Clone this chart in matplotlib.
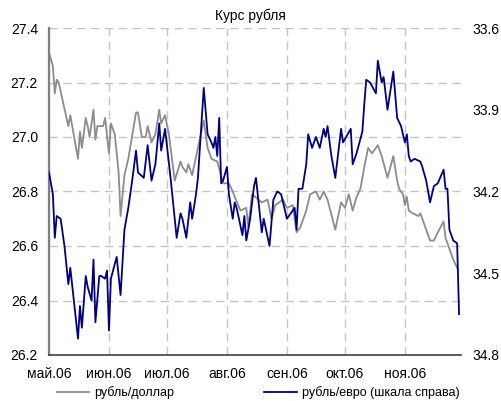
"""Курс рубля: рубль/доллар и рубль/евро (шкала справа)."""
import matplotlib
matplotlib.use("Agg")
import matplotlib.pyplot as plt
import pandas as pd

plt.rcParams['font.family'] = ['Liberation Sans', 'DejaVu Sans']

START = pd.Timestamp('2006-05-01')

# days after 1 May 2006
usd_days = [0, 2, 3, 4, 5, 10, 11, 15, 16, 17, 19, 20, 21, 23, 24, 25, 28, 29, 31, 32,
            34, 36, 37, 39, 41, 45, 46, 48, 50, 51, 53, 55, 57, 58, 60, 62, 65, 68, 69, 71,
            72, 74, 77, 80, 82, 84, 87, 90, 93, 95, 96, 99, 102, 103, 105, 110, 113, 115, 117, 121,
            123, 126, 128, 130, 133, 135, 138, 140, 142, 144, 148, 151, 153, 155, 157, 159, 161, 163, 165, 167,
            170, 172, 175, 178, 180, 181, 183, 184, 185, 186, 188, 191, 192, 193, 197, 199, 201, 204, 205, 207,
            209, 211]
usd_rate = [27.31, 27.26, 27.16, 27.21, 27.20, 27.04, 27.08, 26.92, 27.02, 26.96, 27.07, 27.04, 27.00, 27.10, 26.99, 27.04, 27.04, 27.07, 26.94, 27.05,
            27.01, 26.87, 26.71, 26.86, 26.92, 27.09, 27.09, 27.00, 27.00, 27.04, 26.98, 27.01, 27.10, 27.05, 27.08, 27.01, 26.84, 26.91, 26.89, 26.87,
            26.90, 26.86, 26.96, 27.06, 26.96, 26.92, 26.91, 26.83, 26.83, 26.80, 26.78, 26.73, 26.74, 26.67, 26.79, 26.76, 26.77, 26.70, 26.75, 26.77,
            26.74, 26.75, 26.65, 26.67, 26.73, 26.79, 26.80, 26.77, 26.80, 26.77, 26.66, 26.76, 26.74, 26.79, 26.73, 26.78, 26.81, 26.89, 26.96, 26.94,
            26.97, 26.93, 26.85, 26.93, 26.84, 26.81, 26.79, 26.75, 26.78, 26.73, 26.72, 26.71, 26.72, 26.70, 26.62, 26.62, 26.65, 26.69, 26.63, 26.59,
            26.55, 26.52]

eur_days = [0, 2, 3, 4, 6, 8, 10, 11, 13, 15, 16, 17, 19, 20, 22, 23, 24, 26, 27, 29,
            30, 31, 32, 35, 37, 39, 41, 43, 45, 46, 49, 51, 53, 55, 57, 58, 60, 63, 66, 68,
            69, 71, 73, 74, 76, 77, 79, 80, 82, 84, 85, 86, 87, 88, 89, 90, 92, 93, 95, 96,
            97, 100, 101, 102, 104, 106, 107, 110, 111, 114, 116, 118, 120, 122, 123, 125, 127, 128, 129, 131,
            133, 134, 136, 138, 140, 142, 143, 144, 146, 148, 151, 152, 156, 157, 159, 162, 163, 164, 166, 169,
            170, 172, 173, 175, 178, 180, 182, 184, 185, 186, 187, 189, 192, 193, 195, 197, 199, 201, 204, 205,
            206, 207, 209, 211, 212]
eur_rate = [34.13, 34.21, 34.37, 34.29, 34.30, 34.40, 34.54, 34.48, 34.61, 34.74, 34.62, 34.70, 34.51, 34.55, 34.60, 34.45, 34.68, 34.51, 34.51, 34.52,
            34.49, 34.71, 34.52, 34.44, 34.58, 34.34, 34.26, 34.16, 34.05, 34.13, 34.15, 34.03, 34.16, 34.10, 33.95, 34.05, 33.97, 34.16, 34.37, 34.28,
            34.30, 34.37, 34.24, 34.30, 34.21, 34.15, 33.93, 33.82, 33.99, 34.02, 34.04, 34.00, 34.07, 33.93, 34.17, 34.16, 34.11, 34.21, 34.30, 34.24,
            34.26, 34.36, 34.29, 34.38, 34.30, 34.18, 34.15, 34.35, 34.30, 34.40, 34.23, 34.20, 34.21, 34.27, 34.30, 34.28, 34.26, 34.34, 34.19, 34.19,
            34.10, 33.99, 34.04, 34.00, 34.04, 33.97, 34.00, 33.96, 34.07, 34.15, 33.97, 34.02, 33.97, 34.10, 34.06, 33.98, 33.88, 33.79, 33.80, 33.84,
            33.72, 33.80, 33.78, 33.90, 33.76, 33.93, 33.96, 34.02, 33.99, 34.07, 34.09, 34.08, 34.09, 34.11, 34.16, 34.24, 34.18, 34.17, 34.12, 34.19,
            34.19, 34.34, 34.38, 34.39, 34.65]

month_labels = ['май.06', 'июн.06', 'июл.06', 'авг.06', 'сен.06', 'окт.06', 'ноя.06']
left_ticks = [26.2, 26.4, 26.6, 26.8, 27.0, 27.2, 27.4]
right_ticks = [33.6, 33.9, 34.2, 34.5, 34.8]

usd_dates = START + pd.to_timedelta(usd_days, unit='D')
eur_dates = START + pd.to_timedelta(eur_days, unit='D')
month_starts = pd.date_range('2006-05-01', '2006-11-01', freq='MS')

fig = plt.figure(figsize=(5.01, 4.01), dpi=100)
ax = fig.add_axes([49 / 501, 1 - 355 / 401, 412 / 501, 327 / 401])
ax2 = ax.twinx()

l1, = ax.plot(usd_dates, usd_rate, color='#8c8c8c', lw=1.3, label='рубль/доллар')
l2, = ax2.plot(eur_dates, eur_rate, color='#000080', lw=1.3, label='рубль/евро (шкала справа)')

ax.set_xlim(START, pd.Timestamp('2006-11-30'))
ax.set_ylim(26.2, 27.4)
ax.set_yticks(left_ticks)
ax.set_yticklabels([f'{v:.1f}' for v in left_ticks])
ax.set_xticks(month_starts)
ax.set_xticklabels(month_labels)
ax2.set_ylim(34.8, 33.6)
ax2.set_yticks(right_ticks)
ax2.set_yticklabels([f'{v:.1f}' for v in right_ticks])

ax.grid(True, color='#c4c4c4', ls=(0, (6, 4)), lw=1)
ax.tick_params(axis='both', length=0, labelsize=10)
ax.tick_params(axis='y', pad=8)
ax.tick_params(axis='x', pad=9)
ax2.tick_params(axis='y', length=0, labelsize=10, pad=8)

for a in (ax, ax2):
    for side in ('top', 'right', 'left', 'bottom'):
        a.spines[side].set_visible(False)
ax.spines['left'].set_visible(True)
ax.spines['left'].set_color('#808080')
ax.spines['left'].set_linewidth(1.6)
ax.spines['bottom'].set_visible(True)
ax.spines['bottom'].set_color('#404040')
ax.spines['bottom'].set_linewidth(1.2)

fig.text(250 / 501, 1 - 16 / 401, 'Курс рубля', ha='center', va='center', fontsize=10)

fig.legend(handles=[l1, l2], loc='center', bbox_to_anchor=(258 / 501, 1 - 393 / 401),
           ncol=2, frameon=False, fontsize=9, handlelength=2.6, handletextpad=0.4,
           columnspacing=7.2, borderaxespad=0, borderpad=0)

fig.savefig('out.png', dpi=100)
